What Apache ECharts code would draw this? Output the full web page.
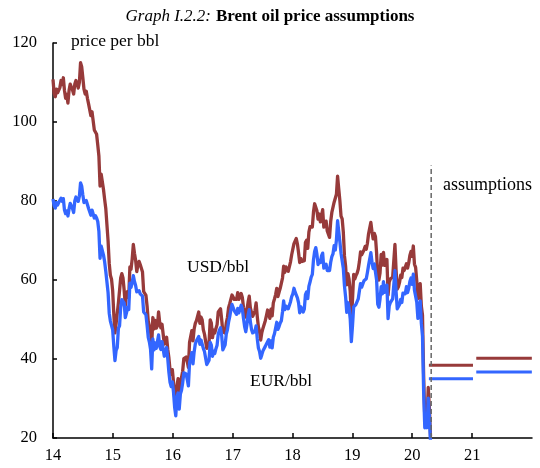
<!DOCTYPE html>
<html>
<head>
<meta charset="utf-8">
<script src="https://cdn.jsdelivr.net/npm/echarts@6/dist/echarts.min.js"></script>
<style>html,body{margin:0;padding:0;background:#fff}#c{width:540px;height:468px}</style>
</head>
<body>
<div id="c"></div>
<script>
// Weekly observations (Wednesdays) starting 2014-01-01
const startDate = '2014-01-01';
const usd2014 = [110.8,107.2,106.4,108.3,107.4, 107.8,108.7,110.5,109.5, 111.2,108.0,106.0,107.0, 104.8,108.0,109.6,109.3,108.1, 107.1,109.6,110.5,109.8, 108.6,110.0,115.0,114.0, 111.2,108.3,107.1,107.8,106.0, 104.6,104.2,101.6,102.6, 102.8,98.0,98.0,96.9, 94.2,91.4,83.8,86.8,87.1, 82.9,80.4,78.1,77.8, 69.9,64.2,61.2,60.2,57.3];
const usd2015 = [51.2,46.6,49.0,48.5, 54.2,54.7,60.5,61.6, 60.5,57.5,53.5,56.5, 57.1,55.6,63.3,62.7,65.3, 69.0,66.8,65.0,62.1, 63.8,64.7,63.9,63.5, 62.0,57.1,57.1,56.1,53.4, 49.6,49.2,47.2,43.1, 50.5,47.6,49.8,47.8,48.4, 51.9,49.2,47.9,48.8, 48.6,43.8,44.3,45.5, 42.5,40.3,37.2,36.1,37.3];
const usd2016 = [34.2,30.3,27.9,33.1, 35.0,30.8,34.5,35.3, 36.9,40.1,40.3,40.5,39.3, 37.9,44.2,44.5,47.2, 44.6,47.6,49.0,49.7, 49.7,51.9,49.0,50.6,49.9, 47.4,46.3,46.2,42.7, 43.1,44.1,49.9,49.1,45.4, 47.3,46.6,47.7,48.7, 51.9,52.0,52.7,50.0, 46.9,46.4,46.6,49.1,50.5, 53.0,54.0,54.5,56.2];
const usd2017 = [56.5,55.1,55.5,55.1, 56.8,55.1,55.8,56.6, 55.6,53.1,51.8,50.6,52.4, 54.4,55.9,52.9,51.8, 50.8,50.8,52.2,54.2,50.8, 48.1,46.9,44.8,46.7, 47.8,47.7,49.7,51.0, 52.4,52.7,50.3,52.6,50.9, 54.2,55.2,56.3,57.9, 55.8,56.9,57.9,58.4, 60.5,63.5,61.9,63.3,63.1, 62.2,62.4,64.6,66.4];
const usd2018 = [67.8,69.2,69.4,70.5,69.1, 66.9,64.4,65.4,64.7, 64.3,64.9,69.5,70.1, 68.0,72.1,73.5,74.0, 73.4,77.2,79.3,79.8,77.5, 75.4,76.7,74.7,76.3, 77.8,73.4,72.9,74.9, 72.4,72.3,70.8,74.8,77.1, 77.3,79.7,79.4,81.7, 86.3,83.1,80.1,76.2,75.5, 72.1,66.1,63.5,58.8, 61.6,60.2,57.2,50.6];
const usd2019 = [54.9,61.4,60.3,61.1,61.7, 62.7,64.6,67.1,66.4, 66.0,67.6,68.5,67.8, 69.3,71.7,71.6,74.6, 72.2,70.4,71.8,71.0,66.9, 60.6,60.0,61.8,66.5, 63.8,67.0,63.7,63.2,65.2, 56.2,59.5,60.3,60.5, 60.7,60.8,69.0,62.4, 57.7,58.3,59.4,61.2,60.6, 63.0,62.4,62.4,64.1, 63.0,64.3,66.2,67.2];
const usd2020 = [66.0,68.6,64.0,63.2,59.8, 55.3,55.8,59.1,53.4, 51.1,35.8,24.9,27.4, 24.7,32.8,27.7,20.4];

const eur2014 = [80.5,78.8,78.2,79.6,79.0, 79.6,79.9,80.7,79.9, 80.6,77.7,76.8,77.5, 76.2,78.0,79.4,79.2,78.1, 77.1,80.0,81.0,80.7, 79.9,81.2,84.6,83.8, 81.5,79.6,79.2,80.1,79.1, 78.1,77.9,76.4,77.7, 78.2,75.7,76.3,75.7, 74.8,72.3,65.5,68.6,69.1, 66.3,64.6,62.2,62.2, 56.8,51.6,49.6,49.3,47.4];
const eur2015 = [43.2,39.6,42.2,42.9, 47.8,48.4,53.1,55.0, 54.5,54.2,50.5,51.6, 53.1,52.5,59.2,58.1,59.4, 61.1,59.6,58.6,57.0, 57.0,57.3,56.5,56.7, 55.9,51.9,52.4,51.2,48.5, 45.5,44.3,42.5,37.5, 45.1,42.3,44.1,42.7,43.2, 46.1,43.2,42.4,44.4, 44.8,40.7,41.6,42.9, 40.1,36.6,34.1,33.0,34.2];
const eur2016 = [31.7,27.8,25.6,30.4, 31.4,27.3,31.1,32.1, 33.9,36.5,36.0,36.2,34.8, 33.2,39.1,39.4,41.6, 38.8,41.8,43.8,44.6, 44.4,45.7,43.7,44.8,45.0, 42.7,41.9,42.0,38.6, 38.7,39.7,44.2,43.5,40.7, 42.0,41.4,42.6,43.5, 46.3,47.3,47.9,45.9, 42.3,42.6,43.6,46.3,47.4, 49.3,50.7,52.4,53.8];
const eur2017 = [54.1,52.2,52.1,51.3, 52.8,51.7,52.6,53.6, 52.7,50.3,48.2,46.9,48.7, 51.1,52.5,49.4,47.5, 46.6,46.6,47.0,48.4,45.2, 42.8,41.9,40.2,41.1, 42.1,41.8,43.2,43.8, 44.2,44.9,43.0,44.6,42.8, 45.5,46.4,46.9,49.3, 47.5,48.2,49.1,49.7, 51.9,54.7,52.5,53.4,53.2, 52.7,53.1,54.5,55.8];
const eur2018 = [56.5,57.9,56.9,56.9,55.5, 54.2,51.7,53.2,53.0, 51.9,52.6,56.3,57.0, 55.3,58.4,59.5,60.7, 61.4,65.1,67.2,68.2,66.5, 63.9,65.0,64.4,66.1, 66.8,63.0,62.6,64.0, 62.4,62.3,62.4,64.5,65.9, 66.6,68.7,67.6,70.1, 75.0,72.3,69.7,66.8,66.5, 63.0,58.5,55.7,51.8, 54.3,53.0,50.2,44.4];
const eur2019 = [48.4,53.2,52.9,53.8,53.9, 55.2,57.2,59.1,58.2, 58.4,59.8,60.1,60.3, 61.9,63.7,63.4,66.9, 64.5,62.9,64.1,63.7,60.0, 53.9,53.1,55.2,58.3, 56.5,59.6,56.9,56.7,58.7, 50.2,53.4,54.3,54.8, 55.2,55.3,62.4,57.0, 52.7,53.0,53.8,55.1,54.3, 56.7,56.7,56.5,58.3, 56.8,57.9,59.6,60.5];
const eur2020 = [58.9,61.5,57.4,56.9,54.4, 50.3,51.4,54.7,49.0, 45.8,31.7,22.6,25.4, 22.6,30.1,25.4,18.8];

// Assumptions: two periods
const assumpPeriods = [['2020-04-12','2021-01-06'], ['2021-01-26','2021-12-31']];
const assumpUSD = [38.4, 40.2];
const assumpEUR = [35.0, 36.7];
const assumpStart = '2020-04-26';

const yTicks = [20, 40, 60, 80, 100, 120];

const usd = [].concat(usd2014, usd2015, usd2016, usd2017, usd2018, usd2019, usd2020);
const eur = [].concat(eur2014, eur2015, eur2016, eur2017, eur2018, eur2019, eur2020);

function fmt(t){const d=new Date(t);return d.getUTCFullYear()+'-'+String(d.getUTCMonth()+1).padStart(2,'0')+'-'+String(d.getUTCDate()).padStart(2,'0');}
const t0 = Date.parse(startDate+'T00:00:00Z');
const dates = usd.map((_, i) => fmt(t0 + i*7*86400000));

const FONT = '"Liberation Serif", "Times New Roman", serif';
const RED = '#973a3a';
const BLUE = '#3366ff';

const series = [
  {type:'line', name:'USD/bbl', data: dates.map((d,i)=>[d, usd[i]]), showSymbol:false, lineStyle:{width:3.3, color:RED, join:'round'}, itemStyle:{color:RED}, z:2},
  {type:'line', name:'EUR/bbl', data: dates.map((d,i)=>[d, eur[i]]), showSymbol:false, lineStyle:{width:3.3, color:BLUE, join:'round'}, itemStyle:{color:BLUE}, z:3},
  {type:'line', data:[[assumpStart, yTicks[0]],[assumpStart, 89]], showSymbol:false, lineStyle:{width:1.5, color:'#666', type:[5,3]}, z:4}
];
assumpPeriods.forEach((p, i) => {
  series.push({type:'line', data:[[p[0], assumpUSD[i]],[p[1], assumpUSD[i]]], showSymbol:false, lineStyle:{width:3, color:RED}, z:2});
  series.push({type:'line', data:[[p[0], assumpEUR[i]],[p[1], assumpEUR[i]]], showSymbol:false, lineStyle:{width:3, color:BLUE}, z:3});
});

const chart = echarts.init(document.getElementById('c'), null, {renderer:'canvas'});
chart.setOption({
  animation:false,
  backgroundColor:'#fff',
  title:{
    text:'{i|Graph I.2.2:} {b|Brent oil price assumptions}',
    left:'center', top:3,
    textStyle:{fontWeight:'normal', rich:{
      i:{fontStyle:'italic', fontWeight:'normal', fontSize:17, fontFamily:FONT, color:'#000'},
      b:{fontWeight:'bold', fontSize:17, fontFamily:FONT, color:'#000'}
    }}
  },
  grid:{left:53, right:8, top:43, bottom:30},
  xAxis:{
    type:'time', min:'2014-01-01', max:'2022-01-01',
    splitNumber:8, minInterval:365*86400000, maxInterval:366*86400000,
    axisLine:{lineStyle:{color:'#000', width:1.5}},
    axisTick:{show:true, inside:true, length:5, lineStyle:{color:'#000', width:1.5}},
    axisLabel:{color:'#000', fontSize:16.5, fontFamily:FONT, margin:9,
      formatter:(v)=>{const y=new Date(v).getFullYear(); return y>=2022?'':String(y%100);}},
    splitLine:{show:false}
  },
  yAxis:{
    type:'value', min:yTicks[0], max:yTicks[yTicks.length-1], interval:20,
    axisLine:{show:true, lineStyle:{color:'#000', width:1.5}},
    axisTick:{show:true, inside:true, length:4, lineStyle:{color:'#000', width:1.5}},
    axisLabel:{color:'#000', fontSize:16.5, fontFamily:FONT, margin:16},
    splitLine:{show:false}
  },
  graphic:[
    {type:'text', x:71, y:41, style:{text:'price per bbl', font:'17.5px '+FONT, fill:'#000', verticalAlign:'middle'}},
    {type:'text', x:187, y:267, style:{text:'USD/bbl', font:'17.5px '+FONT, fill:'#000', verticalAlign:'middle'}},
    {type:'text', x:250, y:381, style:{text:'EUR/bbl', font:'17.5px '+FONT, fill:'#000', verticalAlign:'middle'}},
    {type:'text', x:443, y:185, style:{text:'assumptions', font:'18px '+FONT, fill:'#000', verticalAlign:'middle'}}
  ],
  series: series
});
</script>
</body>
</html>
